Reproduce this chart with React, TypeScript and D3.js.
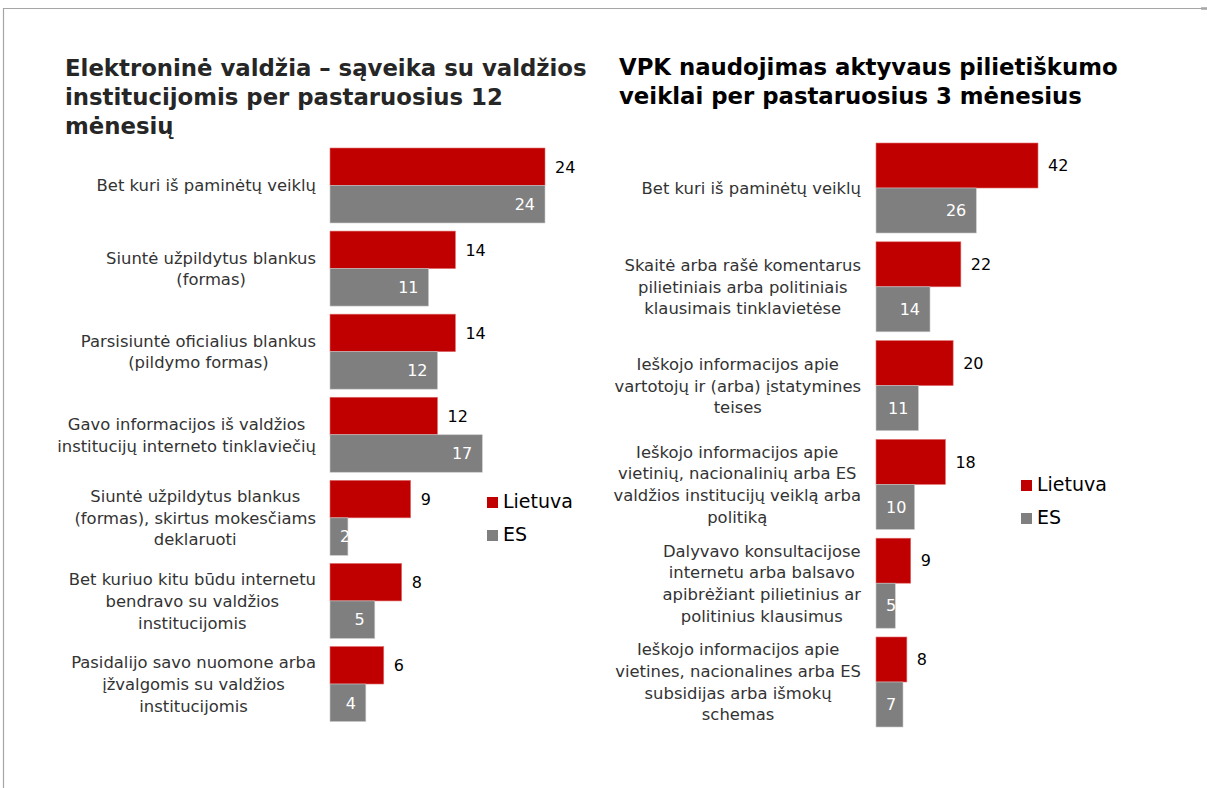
import React from "react";
import * as d3 from "d3";

const leftTitle = ["Elektroninė valdžia – sąveika su valdžios", "institucijomis per pastaruosius 12", "mėnesių"];
const rightTitle = ["VPK naudojimas aktyvaus pilietiškumo", "veiklai per pastaruosius 3 mėnesius"];

const leftCategories = [
  ["Bet kuri iš paminėtų veiklų"],
  ["Siuntė užpildytus blankus", "(formas)"],
  ["Parsisiuntė oficialius blankus", "(pildymo formas)"],
  ["Gavo informacijos iš valdžios", "institucijų interneto tinklaviečių"],
  ["Siuntė užpildytus blankus", "(formas), skirtus mokesčiams", "deklaruoti"],
  ["Bet kuriuo kitu būdu internetu", "bendravo su valdžios", "institucijomis"],
  ["Pasidalijo savo nuomone arba", "įžvalgomis su valdžios", "institucijomis"],
];
const leftLietuva = [24, 14, 14, 12, 9, 8, 6];
const leftES = [24, 11, 12, 17, 2, 5, 4];

const rightCategories = [
  ["Bet kuri iš paminėtų veiklų"],
  ["Skaitė arba rašė komentarus", "pilietiniais arba politiniais", "klausimais tinklavietėse"],
  ["Ieškojo informacijos apie", "vartotojų ir (arba) įstatymines", "teises"],
  ["Ieškojo informacijos apie", "vietinių, nacionalinių arba ES", "valdžios institucijų veiklą arba", "politiką"],
  ["Dalyvavo konsultacijose", "internetu arba balsavo", "apibrėžiant pilietinius ar", "politinius klausimus"],
  ["Ieškojo informacijos apie", "vietines, nacionalines arba ES", "subsidijas arba išmokų", "schemas"],
];
const rightLietuva = [42, 22, 20, 18, 9, 8];
const rightES = [26, 14, 11, 10, 5, 7];

const seriesNames = ["Lietuva", "ES"];
const RED = "#C00000";
const GRAY = "#7F7F7F";
const FONT = "'DejaVu Sans', Verdana, sans-serif";

let canvasCtx: CanvasRenderingContext2D | null = null;
function measure(text: string, size: number, weight = "normal") {
  if (!canvasCtx) canvasCtx = document.createElement("canvas").getContext("2d");
  if (!canvasCtx) return text.length * size * 0.55;
  canvasCtx.font = `${weight} ${size}px 'DejaVu Sans'`;
  return canvasCtx.measureText(text).width;
}

type PanelProps = {
  categories: string[][];
  a: number[];
  b: number[];
  xMax: number;
  x0: number;
  x1: number;
  y0: number;
  y1: number;
  padInner: number;
  labelRight: number;
  legendX: number;
  legendY: number;
};

function Panel(p: PanelProps) {
  const x = d3.scaleLinear().domain([0, p.xMax]).range([p.x0, p.x1]);
  const idx = p.categories.map((_, i) => String(i));
  const y = d3.scaleBand().domain(idx).range([p.y0, p.y1]).paddingInner(p.padInner).paddingOuter(0);
  const sub = d3.scaleBand().domain(["a", "b"]).range([0, y.bandwidth()]);
  const labelSize = 16.4;
  const lineH = 21.7;
  const valSize = 16;
  return (
    <g>
      {p.categories.map((lines, i) => {
        const gy = y(String(i))!;
        const cy = gy + y.bandwidth() / 2;
        const maxW = Math.max(...lines.map((l) => measure(l, labelSize)));
        const cx = p.labelRight - maxW / 2;
        const startY = cy - ((lines.length - 1) * lineH) / 2 + labelSize * 0.36;
        const ya = gy + sub("a")!;
        const yb = gy + sub("b")!;
        const h = sub.bandwidth();
        const wa = x(p.a[i]) - x(0);
        const wb = x(p.b[i]) - x(0);
        const bLabel = String(p.b[i]);
        const bw = measure(bLabel, valSize);
        const bx = Math.max(x(p.b[i]) - 10 - bw, x(0) + 10);
        return (
          <g key={i}>
            <text textAnchor="middle" fontFamily={FONT} fontSize={labelSize} fill="#333333">
              {lines.map((l, j) => (
                <tspan key={j} x={cx} y={startY + j * lineH}>
                  {l}
                </tspan>
              ))}
            </text>
            <rect x={x(0)} y={ya} width={wa} height={h} fill={RED} stroke="#e07070" strokeWidth={0.6} />
            <rect x={x(0)} y={yb} width={wb} height={h} fill={GRAY} stroke="#c8c8c8" strokeWidth={0.6} />
            <text x={x(p.a[i]) + 10} y={ya + h / 2 + valSize * 0.36} fontFamily={FONT} fontSize={valSize} fill="#000">
              {p.a[i]}
            </text>
            <text x={bx} y={yb + h / 2 + valSize * 0.36} fontFamily={FONT} fontSize={valSize} fill="#fff">
              {bLabel}
            </text>
          </g>
        );
      })}
      {seriesNames.map((s, k) => (
        <g key={s}>
          <rect x={p.legendX} y={p.legendY + k * 33 - 11} width={11} height={11} fill={k === 0 ? RED : GRAY} />
          <text x={p.legendX + 16} y={p.legendY + k * 33} fontFamily={FONT} fontSize={19} fill="#000">
            {s}
          </text>
        </g>
      ))}
    </g>
  );
}

export default function App() {
  return (
    <svg width={1207} height={788} style={{ position: "absolute", left: 0, top: 0 }}>
      <rect width={1207} height={788} fill="#fff" />
      <line x1={3} y1={8.5} x2={1201} y2={8.5} stroke="#a6a6a6" strokeWidth={1.2} />
      <line x1={1201} y1={8.5} x2={1207} y2={8.5} stroke="#a6a6a6" strokeWidth={2.5} />
      <line x1={3.5} y1={8} x2={3.5} y2={788} stroke="#a6a6a6" strokeWidth={1.2} />
      <text fontFamily={FONT} fontWeight="bold" fontSize={22.8} fill="#262626">
        {leftTitle.map((l, i) => (
          <tspan key={i} x={65} y={76 + i * 29}>
            {l}
          </tspan>
        ))}
      </text>
      <text fontFamily={FONT} fontWeight="bold" fontSize={22.8} fill="#000">
        {rightTitle.map((l, i) => (
          <tspan key={i} x={619} y={75 + i * 29}>
            {l}
          </tspan>
        ))}
      </text>
      <Panel
        categories={leftCategories}
        a={leftLietuva}
        b={leftES}
        xMax={24}
        x0={330}
        x1={545}
        y0={148}
        y1={721.5}
        padInner={0.0975}
        labelRight={316}
        legendX={487}
        legendY={508}
      />
      <Panel
        categories={rightCategories}
        a={rightLietuva}
        b={rightES}
        xMax={42}
        x0={876}
        x1={1038}
        y0={143}
        y1={727}
        padInner={0.089}
        labelRight={861}
        legendX={1021}
        legendY={491}
      />
    </svg>
  );
}
